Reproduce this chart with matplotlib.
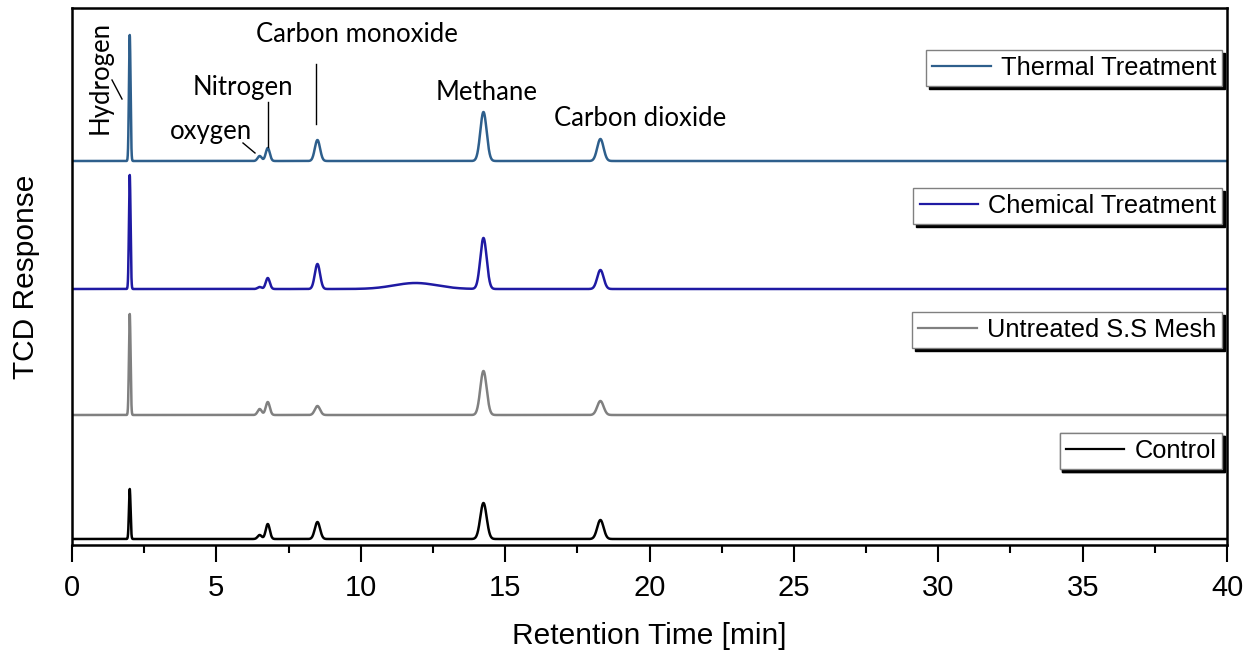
import numpy as np
import matplotlib
matplotlib.use("Agg")
import matplotlib.pyplot as plt
from matplotlib.lines import Line2D

plt.rcParams['font.family'] = ['Liberation Sans', 'DejaVu Sans']

# peak table (retention time in min)
gases = ["Hydrogen", "oxygen", "Nitrogen", "Carbon monoxide", "Methane", "Carbon dioxide"]
retention = [2.0, 6.5, 6.78, 8.5, 14.25, 18.3]
widths = [0.028, 0.07, 0.07, 0.09, 0.11, 0.11]

samples = ["Thermal Treatment", "Chemical Treatment", "Untreated S.S Mesh", "Control"]
colors = ["#2e5f8c", "#1f1aa3", "#808080", "#000000"]
offsets = [384, 256, 130, 6]

thermal_heights = [126, 5, 13, 21, 49, 22]
chemical_heights = [114, 2, 11, 25, 51, 19]
untreated_heights = [101, 6, 13, 9, 44, 14]
control_heights = [50, 4, 15, 17, 36, 19]
heights = [thermal_heights, chemical_heights, untreated_heights, control_heights]

# broad hump in the chemical trace
hump_time = 11.9
hump_height = 6
hump_width = 0.75

t = np.linspace(0, 40, 8001)


def trace(h, extra=None):
    y = np.zeros_like(t)
    for rt, hh, w in zip(retention, h, widths):
        y += hh * np.exp(-0.5 * ((t - rt) / w) ** 2)
    if extra:
        y += extra[1] * np.exp(-0.5 * ((t - extra[0]) / extra[2]) ** 2)
    return y


fig = plt.figure(figsize=(12.44, 6.51), dpi=100)
ax = fig.add_axes([72 / 1244, 1 - 545 / 651, 1155 / 1244, 537 / 651])

lines = []
for i, name in enumerate(samples):
    extra = (hump_time, hump_height, hump_width) if i == 1 else None
    ln, = ax.plot(t, trace(heights[i], extra) + offsets[i], color=colors[i], lw=1.8)
    lines.append(ln)

ax.set_xlim(0, 40)
ax.set_ylim(0, 537)
ax.set_yticks([])
ax.set_xticks(np.arange(0, 41, 5))
ax.set_xticks(np.arange(2.5, 40, 5), minor=True)
ax.tick_params(axis='x', which='major', length=12, width=1.5, direction='out', labelsize=21, pad=9)
ax.tick_params(axis='x', which='minor', length=6, width=1.5, direction='out')
for sp in ax.spines.values():
    sp.set_linewidth(1.8)
ax.set_xlabel("Retention Time [min]", fontsize=21.5, labelpad=14)
ax.set_ylabel("TCD Response", fontsize=21.5, labelpad=23)

# legends, one per trace
tops = [0.922, 0.665, 0.434, 0.2086]
for ln, name, top in zip(lines, samples, tops):
    h = Line2D([], [], color=ln.get_color(), lw=1.6)
    leg = ax.legend([h], [name], loc='upper right', bbox_to_anchor=(0.996, top),
                    borderaxespad=0, fontsize=18.3, fancybox=False, framealpha=1,
                    edgecolor='#808080', handlelength=2.3, handletextpad=0.4,
                    borderpad=0.24, shadow={'color': 'black', 'alpha': 1})
    leg.get_frame().set_linewidth(1.0)
    ax.add_artist(leg)


def px(x, y):
    return (x - 72) / 28.875, 545 - y


# peak labels
lab = dict(fontsize=18.5, family=['Lato', 'DejaVu Sans'], ha='center', va='center')
ax.text(*px(100, 77), "Hydrogen", rotation=90, **lab)
ax.text(*px(211, 131), "oxygen", **lab)
ax.text(*px(243, 87), "Nitrogen", **lab)
ax.text(*px(357, 35), "Carbon monoxide", **lab)
ax.text(*px(487, 92), "Methane", **lab)
ax.text(*px(640, 118), "Carbon dioxide", **lab)

for (x0, y0), (x1, y1) in [((112, 80), (122, 99)), ((243, 143), (255, 153)),
                           ((268, 102), (268, 147)), ((316, 64), (316, 124))]:
    a, b = px(x0, y0)
    c, d = px(x1, y1)
    ax.plot([a, c], [b, d], color='black', lw=1)

fig.savefig("out.png", dpi=100)
